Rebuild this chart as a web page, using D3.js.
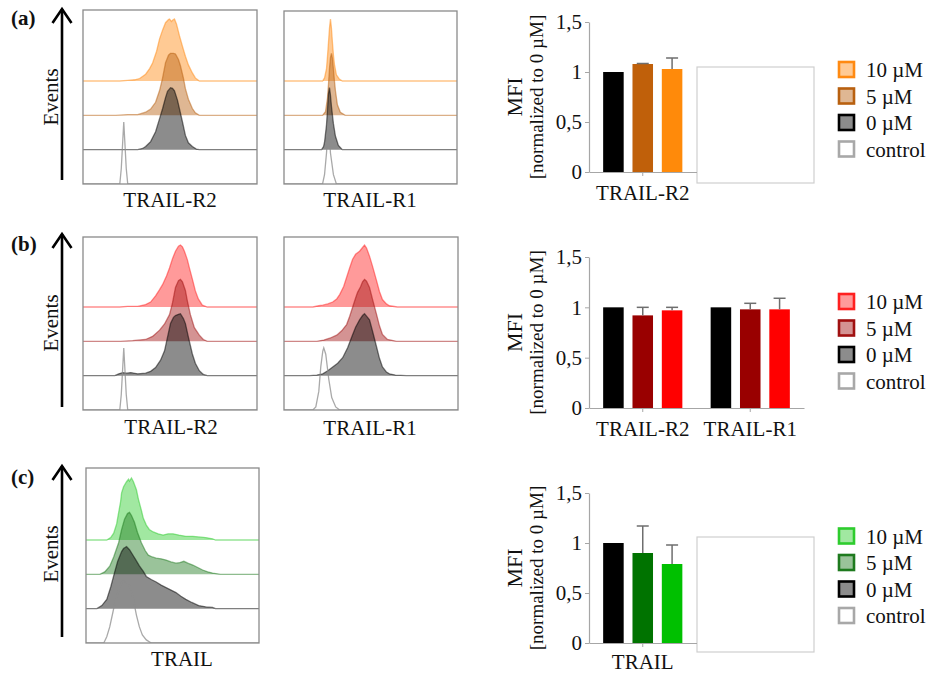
<!DOCTYPE html>
<html><head><meta charset="utf-8">
<script src="https://cdn.jsdelivr.net/npm/d3@7"></script>
<style>
html,body{margin:0;padding:0;background:#fff;}
svg{display:block;font-family:"Liberation Serif","Times New Roman",serif;}
</style></head><body>
<svg id="fig" width="931" height="675"></svg>
<script>
// ---- dose groups ----
const doses = ["10 µM", "5 µM", "0 µM", "control"];   // legend / histogram stacking order (top to bottom)
const barDoses = ["0 µM", "5 µM", "10 µM"];           // bar order within a group
const yTicks = [0, 0.5, 1, 1.5];

// ---- MFI (normalized to 0 µM), mean and SD ----
const catsA = ["TRAIL-R2"];
const meanA = [[1.00, 1.08, 1.03]];
const errA  = [[0, 0.005, 0.11]];

const catsB = ["TRAIL-R2", "TRAIL-R1"];
const meanB = [[1.00, 0.92, 0.97], [1.00, 0.98, 0.98]];
const errB  = [[0, 0.08, 0.03], [0, 0.06, 0.11]];

const catsC = ["TRAIL"];
const meanC = [[1.00, 0.90, 0.79]];
const errC  = [[0, 0.27, 0.19]];

// ---- flow cytometry histograms: [channel, % of mode] ----
// (a) TRAIL-R2
const aR2_10 = [[37,0],[45,1],[52,2],[57,4],[63,11],[67,20],[70,29],[74,48],[77,68],[80,82],[83,94],[86,99],[87,100],[89,96],[90,98],[92,100],[94,92],[97,73],[100,56],[103,40],[106,26],[110,13],[113,5],[117,0]];
const aR2_5  = [[33,0],[45,1],[55,1],[63,5],[68,10],[73,21],[77,40],[80,60],[83,85],[86,97],[88,100],[91,100],[93,99],[96,90],[98,80],[101,60],[103,43],[106,26],[110,11],[113,4],[117,0]];
const aR2_0  = [[55,0],[60,2],[63,5],[68,13],[73,29],[77,50],[80,66],[83,84],[85,94],[88,100],[90,99],[92,95],[95,80],[97,66],[100,45],[103,23],[106,11],[110,5],[114,1],[117,0]];
const aR2_ct = [[37,0],[38.5,25],[40,70],[41,100],[42,70],[43.5,25],[45,0]];
// (a) TRAIL-R1
const aR1_10 = [[39,0],[41,5],[43,20],[44,40],[45,62],[46,85],[47,100],[48,85],[49,62],[50,42],[51,27],[53,10],[56,3],[59,0]];
const aR1_5  = [[39,0],[42,6],[44,28],[45,50],[46,75],[47,93],[48,100],[49,92],[50,75],[51,56],[52,40],[54,17],[57,5],[62,0]];
const aR1_0  = [[38,0],[40,5],[41,12],[43,40],[44,65],[45,90],[46,100],[47,88],[48,70],[50,42],[52,22],[55,7],[59,0]];
const aR1_ct = [[39,0],[41,15],[43,50],[45,100],[47,50],[50,15],[53,0]];
// (b) TRAIL-R2
const bR2_10 = [[37,0],[45,1],[55,1],[63,4],[68,8],[73,18],[77,28],[80,36],[84,50],[87,63],[90,78],[93,90],[96,98],[98,100],[100,97],[102,90],[105,76],[107,63],[110,45],[113,26],[116,13],[120,3],[125,0]];
const bR2_5  = [[38,0],[50,1],[63,3],[70,8],[77,18],[82,28],[87,43],[90,62],[93,87],[96,98],[98,100],[100,96],[103,82],[105,65],[108,43],[112,22],[117,10],[121,3],[125,0]];
const bR2_0  = [[32,0],[36,3],[40,5],[44,4],[48,5],[55,3],[63,4],[68,7],[73,13],[78,25],[82,40],[85,62],[88,84],[91,94],[93,97],[96,99],[98,100],[101,92],[103,84],[106,62],[110,35],[113,20],[117,8],[121,2],[125,0]];
const bR2_ct = [[37,0],[38.5,25],[40,70],[41,100],[42,70],[43.5,25],[45,0]];
// (b) TRAIL-R1
const bR1_10 = [[29,0],[35,2],[39,3],[44,5],[49,8],[53,13],[56,20],[60,33],[63,48],[66,63],[69,77],[72,85],[76,90],[79,96],[81,100],[83,95],[86,82],[89,66],[93,43],[96,25],[99,12],[103,5],[106,2],[114,0]];
const bR1_5  = [[33,0],[40,2],[46,5],[53,10],[58,17],[63,27],[66,40],[69,55],[72,70],[74,79],[77,88],[79,96],[81,100],[83,97],[86,87],[89,68],[93,44],[96,25],[99,11],[104,3],[113,0]];
const bR1_0  = [[26,0],[33,1],[39,3],[44,8],[49,14],[54,20],[59,29],[64,45],[69,66],[72,78],[76,90],[79,97],[81,100],[83,96],[86,90],[89,72],[93,47],[96,28],[99,14],[103,6],[106,3],[112,1],[123,0]];
const bR1_ct = [[29,0],[32,5],[35,30],[37,70],[39,95],[40,100],[42,90],[45,50],[48,20],[52,5],[56,0]];
// (c) TRAIL
const cT_10 = [[21,0],[25,4],[28,11],[31,26],[33,44],[35,62],[36,76],[38,86],[41,94],[43,98],[44,95],[46,100],[48,94],[51,81],[53,66],[56,48],[58,35],[61,24],[64,17],[68,13],[73,10],[78,8],[83,10],[88,10],[94,8],[101,6],[108,6],[114,5],[121,4],[128,2],[131,0]];
const cT_5  = [[14,0],[19,4],[24,13],[28,28],[33,51],[36,72],[39,89],[42,98],[44,100],[46,95],[49,84],[52,68],[56,51],[60,38],[63,31],[67,28],[71,26],[76,25],[81,23],[86,20],[91,18],[95,19],[99,21],[103,18],[108,15],[113,11],[118,7],[123,4],[128,2],[136,0]];
const cT_0  = [[11,0],[16,5],[21,15],[25,35],[29,59],[32,76],[36,92],[38,97],[41,100],[44,95],[48,85],[51,77],[54,69],[58,60],[61,52],[66,47],[71,43],[76,38],[81,34],[86,30],[91,26],[96,20],[101,15],[107,10],[114,5],[121,3],[128,2],[131,0]];
const cT_ct = [[18,0],[21,10],[24,26],[27,48],[29,63],[32,80],[34,90],[36,97],[38,100],[40,96],[43,97],[45,88],[48,69],[51,45],[54,26],[57,13],[61,5],[66,0]];

// ---- layout and styles ----
const panels = [
  { tag: "(a)", tagY: 25, arrow: [8, 180],
    hists: [
      { box: [83, 257, 10, 184], label: "TRAIL-R2", lx: 170, ly: 207, curves: [aR2_10, aR2_5, aR2_0, aR2_ct] },
      { box: [284, 457, 11, 184], label: "TRAIL-R1", lx: 370, ly: 207, curves: [aR1_10, aR1_5, aR1_0, aR1_ct] }
    ],
    bars: { top: 22, bottom: 172, cats: catsA, mean: meanA, err: errA, labelPad: 9 },
    blank: [697, 67, 117, 116], legendY: 69.5,
    curveColors: ["#ff8a12", "#b8600f", "#000000"],
    barColors: ["#000000", "#c0600a", "#ff8a0a"] },
  { tag: "(b)", tagY: 251, arrow: [233, 407],
    hists: [
      { box: [83, 257, 237, 410], label: "TRAIL-R2", lx: 171, ly: 434, curves: [bR2_10, bR2_5, bR2_0, bR2_ct] },
      { box: [284, 458, 237, 410], label: "TRAIL-R1", lx: 370, ly: 435, curves: [bR1_10, bR1_5, bR1_0, bR1_ct] }
    ],
    bars: { top: 257, bottom: 408, cats: catsB, mean: meanB, err: errB, labelPad: 9 },
    blank: null, legendY: 301.5,
    curveColors: ["#ff2020", "#a01010", "#000000"],
    barColors: ["#000000", "#990000", "#ff0000"] },
  { tag: "(c)", tagY: 484, arrow: [465, 637],
    hists: [
      { box: [86, 259, 468, 643], label: "TRAIL", lx: 182, ly: 666, curves: [cT_10, cT_5, cT_0, cT_ct] }
    ],
    bars: { top: 493, bottom: 643, cats: catsC, mean: meanC, err: errC, labelPad: 7 },
    blank: [697, 537, 117, 115], legendY: 536,
    curveColors: ["#2ecc2e", "#1e7a1e", "#000000"],
    barColors: ["#000000", "#007300", "#00c000"] }
];

const svg = d3.select("#fig");
const FONT = 21;
const fillOpacity = 0.45;
const fmt = d3.formatLocale({ decimal: ",", thousands: ".", grouping: [3], currency: ["", ""] }).format("~g");

panels.forEach((p, pi) => {
  const g = svg.append("g");

  // panel tag
  g.append("text").attr("x", 11).attr("y", p.tagY)
    .attr("font-size", 21).attr("font-weight", "bold").attr("fill", "#111").text(p.tag);

  // "Events" arrow
  const ax = 62, [aTop, aBot] = p.arrow;
  g.append("line").attr("x1", ax).attr("x2", ax).attr("y1", aTop + 1).attr("y2", aBot)
    .attr("stroke", "#000").attr("stroke-width", 2.6);
  g.append("path").attr("d", `M${ax - 9.5},${aTop + 15}L${ax},${aTop + 1}L${ax + 9.5},${aTop + 15}`)
    .attr("fill", "none").attr("stroke", "#000").attr("stroke-width", 2.6);
  const evY = (aTop + aBot) / 2 + 3;
  g.append("text").attr("transform", `translate(58,${evY}) rotate(-90)`)
    .attr("text-anchor", "middle").attr("font-size", FONT).attr("fill", "#111").text("Events");

  // histograms
  p.hists.forEach((h, hi) => {
    const [x0, x1, y0, y1] = h.box;
    const x = d3.scaleLinear().domain([0, 175]).range([x0, x1]);
    const track = d3.scaleLinear().domain([0, 3]).range([y1, y1 - 103]);
    const hy = d3.scaleLinear().domain([0, 100]).range([0, 62]);
    const clipId = `clip-${pi}-${hi}`;
    g.append("clipPath").attr("id", clipId)
      .append("rect").attr("x", x0).attr("y", y0).attr("width", x1 - x0).attr("height", y1 - y0);
    const hg = g.append("g").attr("clip-path", `url(#${clipId})`);

    doses.forEach((dose, di) => {
      const t = 3 - di;
      const base = track(t);
      const pts = [[0, 0], ...h.curves[di], [175, 0]];
      const isCtrl = dose === "control";
      if (!isCtrl) {
        hg.append("path")
          .attr("d", d3.area().x(d => x(d[0])).y0(base).y1(d => base - hy(d[1]))(pts))
          .attr("fill", p.curveColors[di]).attr("fill-opacity", fillOpacity);
      }
      hg.append("path")
        .attr("d", d3.line().x(d => x(d[0])).y(d => base - hy(d[1]))(pts))
        .attr("fill", "none")
        .attr("stroke", isCtrl ? "#8c8c8c" : p.curveColors[di])
        .attr("stroke-opacity", isCtrl ? 0.75 : 0.5)
        .attr("stroke-width", 1.3);
    });

    g.append("rect").attr("x", x0).attr("y", y0).attr("width", x1 - x0).attr("height", y1 - y0)
      .attr("fill", "none").attr("stroke", "#8a8a8a").attr("stroke-width", 1.3);
    g.append("text").attr("x", h.lx).attr("y", h.ly).attr("text-anchor", "middle")
      .attr("font-size", FONT).attr("fill", "#111").text(h.label);
  });

  // bar chart
  const b = p.bars;
  const axisX = 589, groupW = 107.5;
  const y = d3.scaleLinear().domain([0, 1.5]).range([b.bottom, b.top]);
  const x = d3.scaleBand().domain(b.cats).range([axisX, axisX + groupW * b.cats.length]);
  const inner = d3.scaleBand().domain(barDoses).range([-44, 44]).paddingInner(0.3).paddingOuter(0.15);

  if (p.blank) {
    const [bx, by, bw, bh] = p.blank;
    g.append("rect").attr("x", bx).attr("y", by).attr("width", bw).attr("height", bh)
      .attr("fill", "#fff").attr("stroke", "#cfcfcf").attr("stroke-width", 1.2);
  }

  const yAxis = g.append("g").attr("transform", `translate(${axisX},0)`)
    .call(d3.axisLeft(y).tickValues(yTicks).tickFormat(fmt).tickSize(4).tickSizeOuter(0).tickPadding(3));
  const xAxis = g.append("g").attr("transform", `translate(0,${b.bottom})`)
    .call(d3.axisBottom(x).tickSize(4).tickSizeOuter(0).tickPadding(b.labelPad));
  [yAxis, xAxis].forEach(a => {
    a.select(".domain").attr("stroke", "#a6a6a6").attr("stroke-width", 1.2);
    a.selectAll(".tick line").attr("stroke", "#a6a6a6");
    a.selectAll(".tick text").attr("font-size", FONT).attr("font-family", "Liberation Serif, serif").attr("fill", "#111");
  });

  const rows = b.cats.flatMap((c, ci) => barDoses.map((d, di) => ({ cat: c, dose: d, di, v: b.mean[ci][di], e: b.err[ci][di] })));
  const bg = g.append("g");
  bg.selectAll("rect").data(rows).join("rect")
    .attr("x", d => x(d.cat) + x.bandwidth() / 2 + inner(d.dose))
    .attr("width", inner.bandwidth())
    .attr("y", d => y(d.v))
    .attr("height", d => y(0) - y(d.v))
    .attr("fill", d => p.barColors[d.di]);
  const eg = g.append("g").attr("stroke", "#6e6e6e").attr("stroke-width", 1.5);
  rows.filter(d => d.e > 0).forEach(d => {
    const cx = x(d.cat) + x.bandwidth() / 2 + inner(d.dose) + inner.bandwidth() / 2;
    eg.append("line").attr("x1", cx).attr("x2", cx).attr("y1", y(d.v)).attr("y2", y(d.v + d.e));
    eg.append("line").attr("x1", cx - 6).attr("x2", cx + 6).attr("y1", y(d.v + d.e)).attr("y2", y(d.v + d.e));
  });

  // y-axis title
  const yc = (b.top + b.bottom) / 2;
  g.append("text").attr("transform", `translate(522,${yc}) rotate(-90)`)
    .attr("text-anchor", "middle").attr("font-size", 22).attr("fill", "#111").text("MFI");
  g.append("text").attr("transform", `translate(543,${yc}) rotate(-90)`)
    .attr("text-anchor", "middle").attr("font-size", 19).attr("fill", "#111").text("[normalized to 0 µM]");

  // legend
  const lg = g.append("g");
  doses.forEach((dose, di) => {
    const cy = p.legendY + di * 26.5;
    const isCtrl = dose === "control";
    const col = isCtrl ? "#a8a8a8" : p.curveColors[di];
    lg.append("rect").attr("x", 839).attr("y", cy - 7.5).attr("width", 15).attr("height", 15)
      .attr("fill", "#fff");
    lg.append("rect").attr("x", 839).attr("y", cy - 7.5).attr("width", 15).attr("height", 15)
      .attr("fill", isCtrl ? "#fff" : col).attr("fill-opacity", isCtrl ? 1 : fillOpacity)
      .attr("stroke", col).attr("stroke-width", 2.6);
    lg.append("text").attr("x", 866).attr("y", cy + 7.5)
      .attr("font-size", FONT).attr("fill", "#111").text(dose);
  });
});
</script>
</body></html>
